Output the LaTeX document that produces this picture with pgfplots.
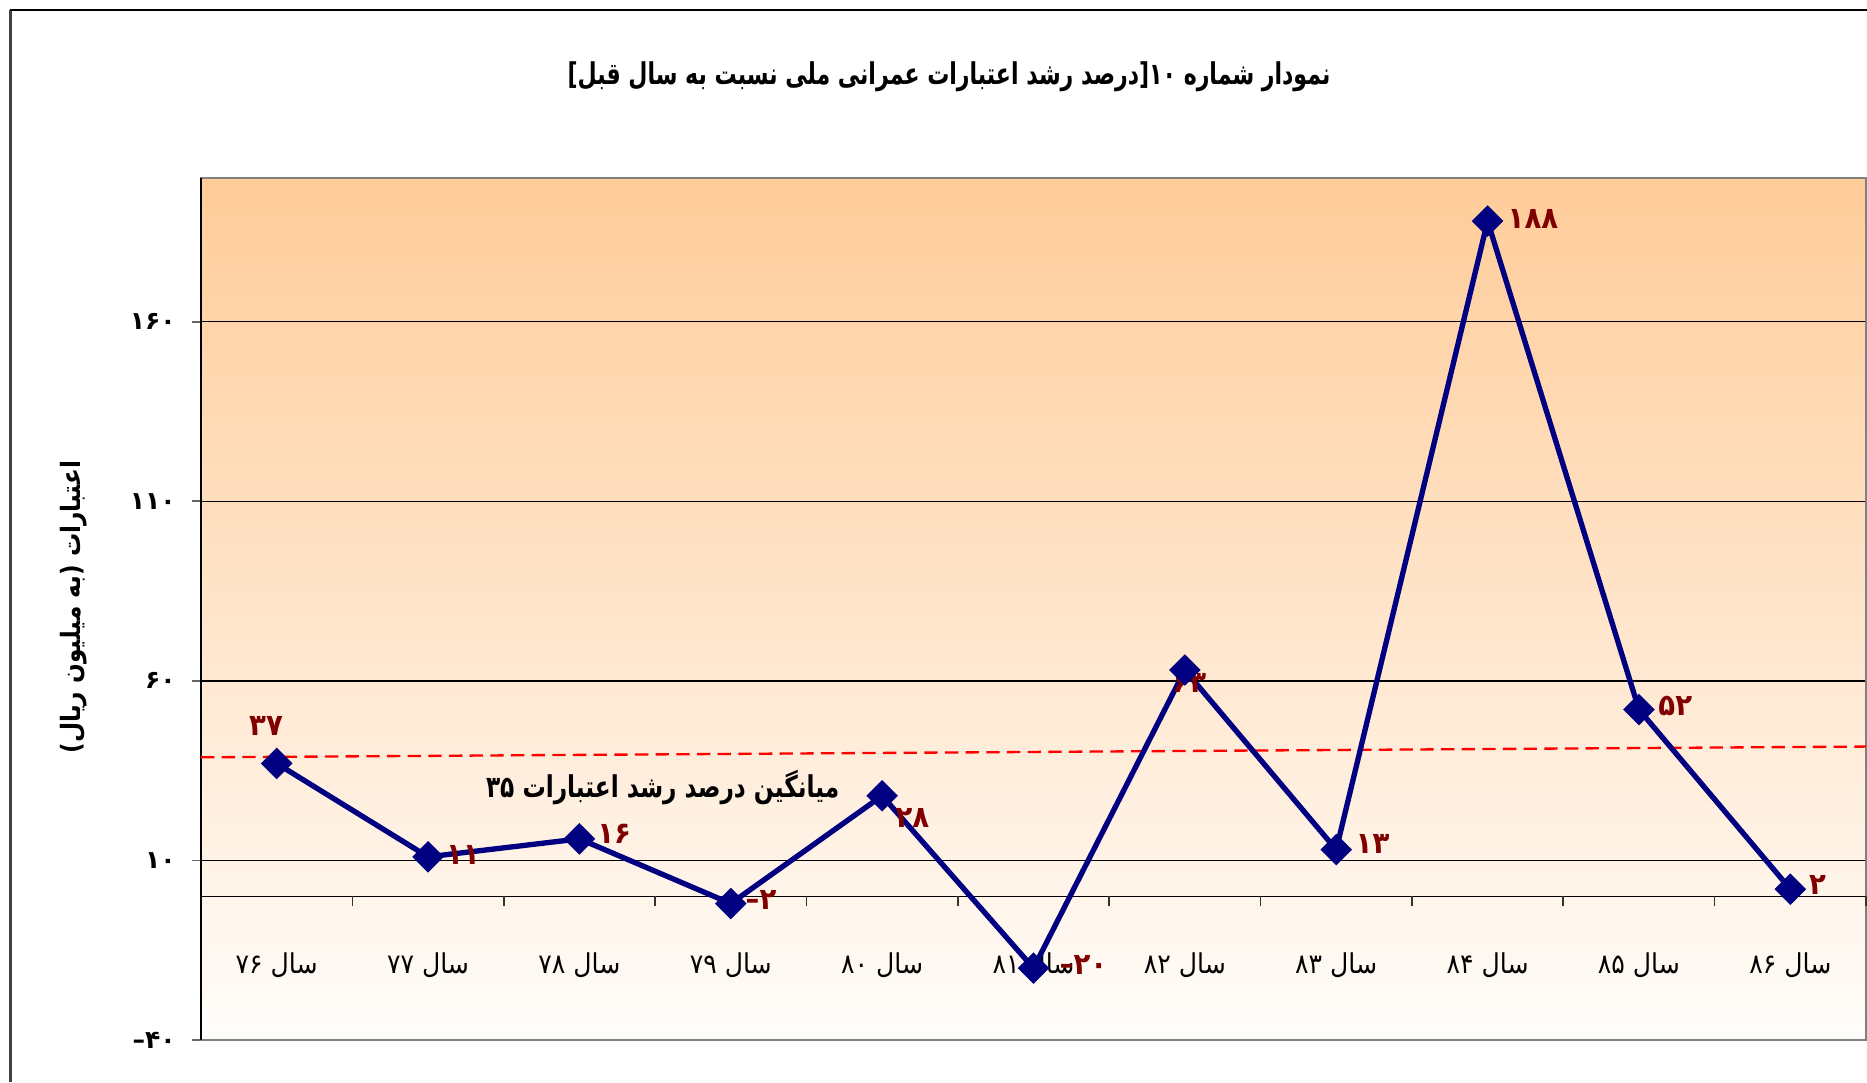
\documentclass[border=0pt]{standalone}
\usepackage{pgfplots}
\pgfplotsset{compat=1.18}
\usepackage{fontspec}
\setmainfont{DejaVu Sans}
\newfontfamily\fa[Script=Arabic]{DejaVu Sans}
\TeXXeTstate=1
\definecolor{navyline}{RGB}{0,0,128}
\definecolor{lblred}{RGB}{128,0,0}
\definecolor{bgtop}{RGB}{255,204,153}
\definecolor{bgbot}{RGB}{255,253,251}
\newcommand{\negfa}[1]{{\rmfamily –}{\fa #1}}
\begin{document}
\begin{tikzpicture}
\path[use as bounding box] (0,0) rectangle (560.1pt,324.6pt);
% outer frame
\draw[line width=0.9pt, black!75] (3pt,0) -- (3pt,321.6pt);
\draw[line width=0.6pt, black] (3pt,321.6pt) -- (560.1pt,321.6pt);
% title
\node[xscale=0.735, font=\fa\bfseries\fontsize{9}{11}\selectfont] at (284.7pt,301.5pt) {\beginR نمودار شماره ۱۰[درصد رشد اعتبارات عمرانی ملی نسبت به سال قبل]\endR};
% y label
\node[rotate=90, xscale=0.87, font=\fa\bfseries\fontsize{8}{10}\selectfont] at (22.2pt,142.5pt) {\beginR اعتبارات (به میلیون ریال)\endR};
\begin{axis}[
  at={(60.3pt,12.6pt)}, anchor=south west,
  scale only axis, width=499.5pt, height=258.6pt,
  xmin=-0.5, xmax=10.5, ymin=-40, ymax=200,
  axis background/.style={top color=bgtop, bottom color=bgbot},
  axis line style={draw=black!50, line width=0.6pt},
  ytick={-40,10,60,110,160},
  yticklabels={{\negfa{۴۰}},{\fa ۱۰},{\fa ۶۰},{\fa ۱۱۰},{\fa ۱۶۰}},
  yticklabel style={font=\fa\bfseries\fontsize{7.5}{9}\selectfont, xshift=-1.4pt},
  ymajorgrids, grid style={black, line width=0.45pt},
  tick align=outside, major tick length=2.7pt,
  ytick style={black!60, line width=0.5pt},
  xtick={0,...,10},
  xticklabels={{\fa\beginR سال ۷۶\endR},{\fa\beginR سال ۷۷\endR},{\fa\beginR سال ۷۸\endR},{\fa\beginR سال ۷۹\endR},{\fa\beginR سال ۸۰\endR},{\fa\beginR سال ۸۱\endR},{\fa\beginR سال ۸۲\endR},{\fa\beginR سال ۸۳\endR},{\fa\beginR سال ۸۴\endR},{\fa\beginR سال ۸۵\endR},{\fa\beginR سال ۸۶\endR}},
  xticklabel style={font=\fa\fontsize{8.2}{10}\selectfont, anchor=center, yshift=25.2pt, xscale=0.92},
  xtick style={draw=none},
  clip=false,
]
% x axis line at 0 and category ticks
\draw[black, line width=0.45pt] (axis cs:-0.5,0) -- (axis cs:10.5,0);
\pgfplotsinvokeforeach{0.5,1.5,2.5,3.5,4.5,5.5,6.5,7.5,8.5,9.5,10.5}{
  \draw[black!80, line width=0.5pt] (axis cs:#1,0) -- (axis cs:#1,-2.8);
}
% left spine
\draw[black, line width=0.8pt] (rel axis cs:0,0) -- (rel axis cs:0,1);
% average line
\addplot[red, line width=0.7pt, dash pattern=on 4pt off 2.2pt] coordinates {(-0.5,38.7) (10.5,41.7)};
\node[xscale=0.775, font=\fa\bfseries\fontsize{9}{11}\selectfont] at (axis cs:2.55,30.4) {\beginR میانگین درصد رشد اعتبارات ۳۵\endR};
% data
\addplot[navyline, line width=1.6pt, mark=square*, mark size=2.55pt, mark options={rotate=45, fill=navyline, solid}] coordinates {
(0,37) (1,11) (2,16) (3,-2) (4,28) (5,-20) (6,63) (7,13) (8,188) (9,52) (10,2)};
% data labels
\begin{scope}[every node/.style={font=\fa\bfseries\fontsize{9}{11}\selectfont, text=lblred, xscale=0.92}]
\node at (axis cs:-0.07,47.4) {۳۷};
\node at (axis cs:1.23,11.6) {۱۱};
\node at (axis cs:2.23,17.3) {۱۶};
\node at (axis cs:3.2,-1) {\negfa{۲}};
\node at (axis cs:4.2,21.7) {۲۸};
\node at (axis cs:5.33,-19.1) {\negfa{۲۰}};
\node at (axis cs:6.03,59.4) {۶۳};
\node at (axis cs:7.24,14.6) {۱۳};
\node at (axis cs:8.3,188.6) {۱۸۸};
\node at (axis cs:9.24,53) {۵۲};
\node at (axis cs:10.18,3.3) {۲};
\end{scope}
\end{axis}
\end{tikzpicture}
\end{document}
